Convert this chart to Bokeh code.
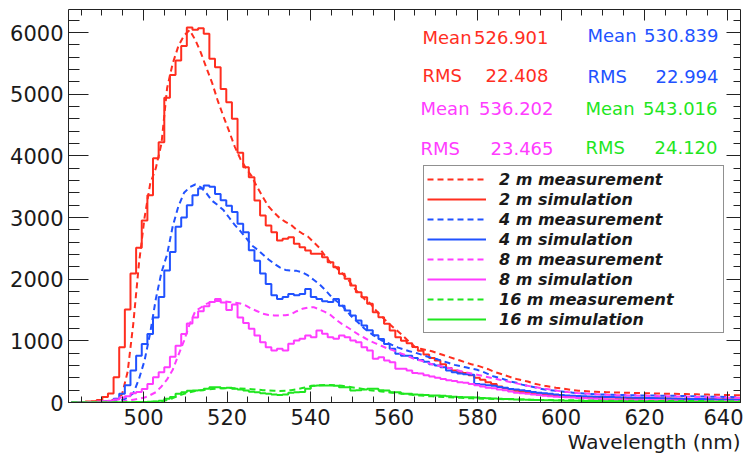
from bokeh.plotting import figure
from bokeh.models import (Range1d, LinearAxis, SingleIntervalTicker, Legend, LegendItem, Label,
                          CustomJSTickFormatter, Title)
from bokeh.embed import file_html
from bokeh.resources import INLINE

# ---------------- data (histogram bins: 482 nm .. 644 nm, 120 bins of 1.35 nm) ----------------
bin_low = 482.0
bin_width = 1.35
n_bins = 120
wavelength = [bin_low + bin_width * (i + 0.5) for i in range(n_bins)]

meas_2m = [0, 0, 0, 0, 5, 10, 15, 25, 60, 130,
           500, 1280, 2250, 3000, 3550, 3800, 4200, 5100, 5500, 5780,
           5950, 6040, 5880, 5670, 5420, 5180, 4890, 4640, 4400, 4150,
           3950, 3800, 3670, 3490, 3330, 3180, 3080, 2990, 2930, 2880,
           2800, 2740, 2690, 2600, 2510, 2380, 2270, 2190, 2100, 2010,
           1880, 1770, 1680, 1610, 1500, 1400, 1310, 1230, 1150, 1070,
           980, 900, 870, 850, 830, 800, 770, 740, 710, 680,
           650, 620, 600, 570, 540, 500, 470, 440, 410, 380,
           360, 340, 310, 290, 270, 255, 240, 230, 215, 200,
           190, 185, 180, 175, 170, 168, 165, 162, 160, 158,
           155, 152, 150, 148, 146, 144, 142, 140, 138, 136,
           134, 132, 130, 128, 126, 124, 122, 120, 118, 116]
sim_2m = [5, 5, 10, 15, 20, 40, 90, 146, 411, 897,
          1508, 2090, 2510, 2950, 3360, 3960, 4220, 4940, 5310, 5546,
          5780, 6080, 6045, 6070, 5980, 5573, 5438, 5085, 4870, 4600,
          4050, 3816, 3654, 3276, 3032, 2870, 2762, 2627, 2654, 2681,
          2573, 2519, 2465, 2411, 2411, 2357, 2276, 2195, 2087, 2006,
          1897, 1789, 1708, 1600, 1465, 1384, 1276, 1168, 1059, 1000,
          960, 900, 840, 780, 720, 680, 620, 560, 520, 490,
          480, 440, 400, 370, 330, 300, 260, 230, 210, 190,
          170, 155, 145, 135, 125, 118, 112, 106, 100, 96,
          92, 88, 91, 84, 86, 80, 82, 76, 79, 74,
          74, 70, 72, 66, 68, 64, 65, 60, 62, 58,
          57, 55, 56, 52, 54, 50, 52, 49, 50, 48]
meas_4m = [0, 0, 0, 0, 0, 5, 10, 15, 25, 40,
           80, 150, 380, 680, 1130, 1680, 2110, 2400, 2860, 3180,
           3400, 3490, 3535, 3490, 3390, 3270, 3200, 3120, 3000, 2880,
           2780, 2670, 2550, 2480, 2400, 2320, 2250, 2190, 2150, 2140,
           2135, 2110, 2060, 1990, 1920, 1830, 1730, 1650, 1580, 1470,
           1370, 1290, 1200, 1130, 1070, 1010, 970, 930, 890, 860,
           830, 810, 780, 750, 720, 700, 670, 640, 610, 590,
           570, 550, 530, 500, 460, 420, 400, 370, 340, 320,
           290, 270, 250, 230, 210, 200, 190, 180, 170, 160,
           150, 145, 140, 135, 130, 128, 125, 122, 120, 118,
           116, 115, 114, 113, 112, 111, 110, 108, 106, 104,
           102, 100, 98, 96, 94, 92, 90, 88, 86, 85]
sim_4m = [5, 5, 5, 5, 5, 10, 15, 20, 60, 140,
          280, 520, 760, 950, 1110, 1380, 1710, 2140, 2440, 2850,
          3000, 3200, 3360, 3470, 3520, 3500, 3380, 3280, 3190, 3090,
          2900, 2760, 2470, 2300, 2090, 1920, 1740, 1680, 1710, 1760,
          1740, 1760, 1840, 1710, 1680, 1640, 1630, 1680, 1570, 1490,
          1410, 1330, 1250, 1170, 1090, 1030, 950, 870, 790, 760,
          760, 720, 690, 660, 620, 600, 570, 520, 490, 470,
          460, 450, 300, 290, 280, 270, 250, 240, 220, 210,
          200, 185, 170, 160, 150, 140, 130, 120, 115, 110,
          105, 100, 98, 95, 92, 90, 88, 85, 82, 80,
          78, 76, 74, 72, 70, 68, 66, 64, 62, 60,
          58, 56, 55, 54, 52, 50, 49, 48, 46, 45]
meas_8m = [0, 0, 0, 0, 0, 0, 5, 10, 15, 20,
           30, 45, 60, 80, 120, 167, 260, 375, 530, 770,
           1000, 1270, 1480, 1540, 1600, 1640, 1650, 1640, 1630, 1620,
           1605, 1570, 1520, 1480, 1440, 1420, 1411, 1411, 1415, 1430,
           1480, 1519, 1540, 1546, 1510, 1470, 1420, 1340, 1276, 1220,
           1160, 1100, 1050, 1000, 960, 920, 880, 850, 810, 780,
           740, 700, 680, 650, 620, 600, 580, 560, 540, 510,
           490, 470, 450, 430, 410, 390, 370, 350, 330, 310,
           290, 270, 255, 240, 225, 210, 195, 180, 170, 160,
           150, 145, 140, 135, 130, 125, 120, 118, 116, 114,
           112, 110, 108, 106, 104, 102, 100, 98, 96, 94,
           92, 90, 88, 86, 84, 82, 80, 78, 76, 75]
sim_8m = [0, 5, 5, 10, 10, 15, 20, 30, 50, 80,
          100, 150, 170, 220, 300, 410, 490, 570, 740, 920,
          1110, 1280, 1380, 1480, 1560, 1630, 1680, 1620, 1500, 1590,
          1380, 1290, 1195, 1086, 978, 897, 843, 870, 843, 951,
          1005, 1032, 1086, 1060, 1168, 1114, 1059, 1032, 1086, 1059,
          1005, 978, 897, 843, 708, 735, 681, 654, 546, 546,
          520, 480, 470, 440, 420, 400, 380, 360, 350, 330,
          320, 300, 280, 260, 240, 230, 210, 200, 180, 160,
          150, 140, 130, 120, 110, 100, 95, 90, 85, 80,
          75, 70, 65, 60, 55, 50, 50, 45, 45, 40,
          40, 40, 35, 35, 35, 30, 30, 30, 30, 25,
          25, 25, 25, 20, 20, 20, 20, 20, 20, 20]
meas_16m = [0, 0, 0, 0, 0, 0, 0, 0, 2, 3,
            4, 5, 6, 8, 10, 12, 20, 40, 70, 110,
            140, 165, 185, 200, 210, 220, 228, 232, 235, 232,
            228, 222, 215, 208, 200, 195, 190, 188, 190, 200,
            215, 235, 255, 270, 280, 285, 285, 280, 270, 260,
            245, 230, 215, 200, 190, 180, 170, 160, 150, 140,
            130, 120, 112, 105, 100, 95, 90, 85, 80, 75,
            72, 68, 65, 62, 60, 58, 56, 54, 52, 50,
            48, 46, 44, 42, 40, 39, 38, 37, 36, 35,
            34, 33, 32, 31, 30, 30, 29, 29, 28, 28,
            27, 27, 26, 26, 25, 25, 25, 24, 24, 24,
            23, 23, 23, 22, 22, 22, 21, 21, 21, 20]
sim_16m = [0, 0, 0, 0, 0, 0, 0, 2, 3, 4,
           5, 6, 8, 10, 12, 15, 30, 60, 90, 140,
           165, 190, 195, 200, 222, 249, 249, 230, 240, 222,
           210, 195, 175, 168, 150, 141, 130, 120, 130, 160,
           168, 170, 222, 270, 276, 276, 276, 270, 249, 249,
           195, 200, 210, 222, 222, 200, 195, 168, 168, 141,
           140, 130, 125, 120, 115, 113, 110, 100, 95, 90,
           86, 86, 80, 75, 70, 65, 60, 58, 55, 50,
           48, 45, 42, 40, 38, 36, 34, 32, 30, 28,
           27, 26, 25, 24, 23, 22, 21, 20, 19, 18,
           18, 17, 16, 16, 15, 15, 14, 14, 13, 13,
           12, 12, 12, 11, 11, 11, 10, 10, 10, 10]

series_names = ["2 m", "4 m", "8 m", "16 m"]
series_meas = [meas_2m, meas_4m, meas_8m, meas_16m]
series_sim = [sim_2m, sim_4m, sim_8m, sim_16m]
stat_mean = ["526.901", "530.839", "536.202", "543.016"]
stat_rms = ["22.408", "22.994", "23.465", "24.120"]
x_title = "Wavelength (nm)"

x_ticks_interval = 20
y_ticks_interval = 1000

# ---------------- styles ----------------
colors = ["#ff2e1f", "#2152ff", "#ff3cff", "#1fe61f"]
FONT = "DejaVu Sans"
AX = "#222222"

p = figure(width=743, height=458, output_backend="svg", toolbar_location=None,
           x_range=Range1d(482, 643), y_range=Range1d(0, 6373),
           min_border_left=68, min_border_right=3, min_border_top=9, min_border_bottom=56,
           background_fill_color="white", border_fill_color="white")
p.outline_line_color = None
p.grid.visible = False

xt = SingleIntervalTicker(interval=x_ticks_interval, num_minor_ticks=4)
yt = SingleIntervalTicker(interval=y_ticks_interval, num_minor_ticks=5)


def style_axis(ax, major, minor, labels=True, standoff=5):
    ax.axis_line_color = AX
    ax.axis_line_width = 1
    ax.major_tick_line_color = AX
    ax.minor_tick_line_color = AX
    ax.major_tick_in = major
    ax.major_tick_out = 0
    ax.minor_tick_in = minor
    ax.minor_tick_out = 0
    ax.major_label_standoff = standoff
    if labels:
        ax.major_label_text_font = FONT
        ax.major_label_text_font_size = "21px"
        ax.major_label_text_color = "#1a1a1a"
    else:
        ax.formatter = CustomJSTickFormatter(code="return ''")
        ax.major_label_text_font_size = "8px"


xb = p.xaxis[0]
xb.ticker = xt
style_axis(xb, 11, 6, True, 6)
yl = p.yaxis[0]
yl.ticker = yt
style_axis(yl, 20, 11, True, 5)

xa = LinearAxis(ticker=xt)
style_axis(xa, 11, 6, False, 0)
p.add_layout(xa, "above")
yr = LinearAxis(ticker=yt)
style_axis(yr, 14, 7, False, 0)
p.add_layout(yr, "right")

# axis title, right-aligned under the x axis
p.add_layout(Title(text=x_title, align="right", text_font=FONT, text_font_size="20px",
                   text_font_style="normal", text_color="#1a1a1a", standoff=0, offset=0),
             "below")

items = []
for name, meas, sim, c in zip(series_names, series_meas, series_sim, colors):
    rm = p.line(wavelength, meas, line_color=c, line_width=2, line_dash="6 4")
    rs = p.step(wavelength, sim, mode="center", line_color=c, line_width=2)
    items.append(LegendItem(label=name + " measurement", renderers=[rm]))
    items.append(LegendItem(label=name + " simulation", renderers=[rs]))

legend = Legend(items=items, location=(355, 69), margin=0, padding=3, spacing=0,
                label_height=20, glyph_height=20, glyph_width=59, label_standoff=13,
                label_width=221, label_text_font=FONT, label_text_font_size="16px",
                label_text_font_style="bold italic", label_text_color="#1a1a1a",
                label_text_baseline="middle",
                border_line_color="#222222", border_line_width=1,
                background_fill_color="white", background_fill_alpha=1.0)
p.add_layout(legend)

# statistics boxes (screen positions relative to the frame)
stat_pos = [(354, 480, 365, 327), (519, 650, 367, 326), (352, 485, 294, 254), (517, 649, 294, 255)]
for i, (xl, xr, ym, yrm) in enumerate(stat_pos):
    for txt, xx, al, yy in [("Mean", xl, "left", ym), (stat_mean[i], xr, "right", ym),
                            ("RMS", xl, "left", yrm), (stat_rms[i], xr, "right", yrm)]:
        p.add_layout(Label(x=xx, y=yy, x_units="screen", y_units="screen", text=txt,
                           text_font=FONT, text_font_size="18px", text_color=colors[i],
                           text_align=al, text_baseline="middle"))

open("out.html", "w").write(file_html(p, INLINE))
